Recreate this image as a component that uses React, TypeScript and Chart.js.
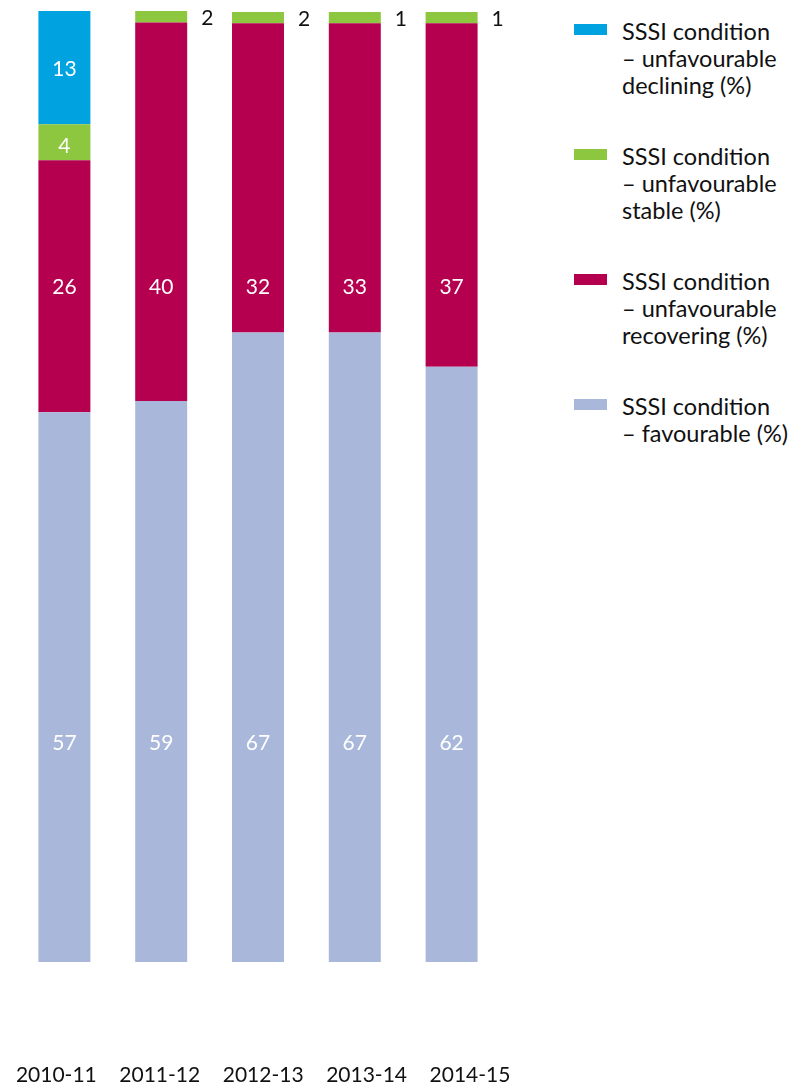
import React, { useEffect, useRef } from "react";
import { Chart, registerables } from "chart.js";

Chart.register(...registerables);

// ---- Data ----
const categories = ["2010-11", "2011-12", "2012-13", "2013-14", "2014-15"];

const seriesNames = [
  "SSSI condition\n– favourable (%)",
  "SSSI condition\n– unfavourable\nrecovering (%)",
  "SSSI condition\n– unfavourable\nstable (%)",
  "SSSI condition\n– unfavourable\ndeclining (%)",
];

// segment sizes as drawn (percent of the bar)
const favourable = [57.8, 59.0, 66.2, 66.2, 62.6];
const recovering = [26.5, 39.8, 32.5, 32.5, 36.1];
const stable = [3.8, 1.2, 1.2, 1.2, 1.2];
const declining = [11.9, null, null, null, null];

// numbers printed on the segments
const favourableLabels = ["57", "59", "67", "67", "62"];
const recoveringLabels = ["26", "40", "32", "33", "37"];
const stableLabels = ["4", "2", "2", "1", "1"];
const decliningLabels = ["13", null, null, null, null];

// ---- Styles ----
const colors = ["#A9B8DA", "#B5004F", "#8DC63F", "#00A3E0"];
const labelLevels = [23, 71, 85.8, 93.9]; // value level where each series' label sits
const FONT = "Lato";

const seriesValues = [favourable, recovering, stable, declining];
const seriesLabels = [favourableLabels, recoveringLabels, stableLabels, decliningLabels];

const segLabelPlugin = {
  id: "segLabels",
  afterDatasetsDraw(chart: any) {
    const ctx = chart.ctx;
    const yScale = chart.scales.y;
    ctx.save();
    ctx.font = `21px ${FONT}`;
    chart.data.datasets.forEach((_ds: any, di: number) => {
      const meta = chart.getDatasetMeta(di);
      meta.data.forEach((bar: any, j: number) => {
        const text = seriesLabels[di][j];
        if (text == null) return;
        const p = bar.getProps(["x", "y", "base", "width"], true);
        const h = Math.abs(p.base - p.y);
        if (h < 20) {
          ctx.fillStyle = "#111111";
          ctx.textAlign = "left";
          ctx.textBaseline = "middle";
          ctx.fillText(text, p.x + p.width / 2 + 14, (p.y + p.base) / 2 + 2);
        } else {
          ctx.fillStyle = "#ffffff";
          ctx.textAlign = "center";
          ctx.textBaseline = "middle";
          ctx.fillText(text, p.x, yScale.getPixelForValue(labelLevels[di]));
        }
      });
    });
    ctx.restore();
  },
};

export default function App() {
  const ref = useRef<HTMLCanvasElement | null>(null);

  useEffect(() => {
    if (!ref.current) return;
    Chart.defaults.font.family = FONT;
    const chart = new Chart(ref.current, {
      type: "bar",
      data: {
        labels: categories,
        datasets: seriesValues.map((vals, i) => ({
          label: seriesNames[i],
          data: vals,
          backgroundColor: colors[i],
          borderWidth: 0,
          xAxisID: "x",
          yAxisID: "y",
          barPercentage: 0.537,
          categoryPercentage: 1,
        })),
      },
      options: {
        animation: false,
        responsive: false,
        maintainAspectRatio: false,
        layout: { padding: { left: 16, right: 40, top: 11, bottom: 0 } },
        plugins: {
          legend: { display: false },
          tooltip: { enabled: false },
        },
        scales: {
          x: {
            type: "category",
            stacked: true,
            display: false,
          },
          x2: {
            type: "linear",
            position: "bottom",
            offset: false,
            bounds: "data",
            min: -0.39,
            max: 4.29,
            grid: { display: false, offset: false, drawTicks: true, tickLength: 100 },
            border: { display: false },
            afterBuildTicks: (axis: any) => {
              axis.ticks = categories.map((_c, i) => ({ value: i }));
            },
            ticks: {
              autoSkip: false,
              maxRotation: 0,
              padding: 3,
              color: "#111111",
              font: { family: FONT, size: 21, lineHeight: 1 },
              callback: (v: any) => categories[v as number] ?? "",
            },
          },
          y: {
            stacked: true,
            display: false,
            min: 0,
            max: 100,
          },
        },
      },
      plugins: [segLabelPlugin],
    } as any);
    return () => chart.destroy();
  }, []);

  return (
    <div
      style={{
        position: "absolute",
        left: 0,
        top: 0,
        width: 801,
        height: 1085,
        overflow: "hidden",
        background: "#ffffff",
      }}
    >
      <canvas
        ref={ref}
        width={540}
        height={1089}
        style={{ position: "absolute", left: 0, top: 0, display: "block" }}
      />
      <div
        style={{
          position: "absolute",
          left: 574,
          top: 18,
          fontFamily: FONT,
          fontSize: 23.5,
          lineHeight: "27px",
          color: "#111111",
        }}
      >
        {[3, 2, 1, 0].map((i) => (
          <div key={i} style={{ display: "flex", height: 125 }}>
            <span
              style={{
                width: 33,
                height: 11,
                marginTop: 6,
                background: colors[i],
                flex: "none",
              }}
            />
            <span style={{ marginLeft: 15, whiteSpace: "pre-line" }}>{seriesNames[i]}</span>
          </div>
        ))}
      </div>
    </div>
  );
}
